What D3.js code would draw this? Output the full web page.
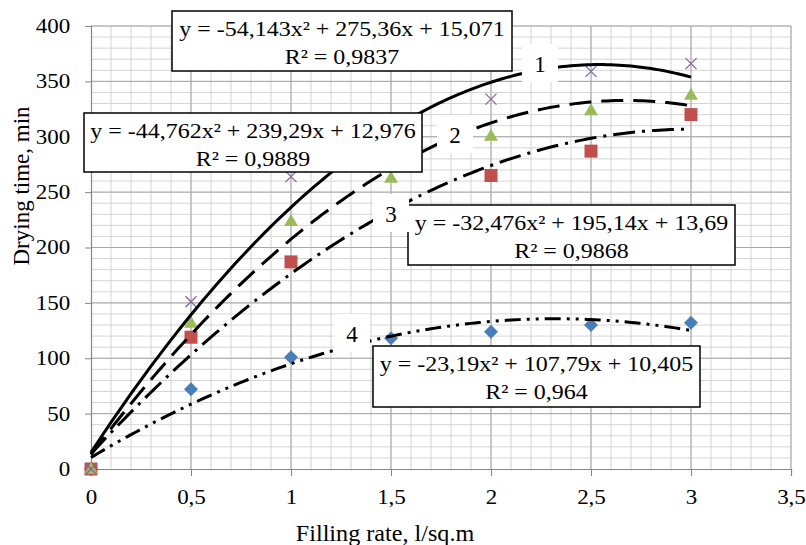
<!DOCTYPE html>
<html>
<head>
<meta charset="utf-8">
<script src="https://cdn.jsdelivr.net/npm/d3@7"></script>
<style>
  body { margin: 0; background: #fff; }
  svg text { font-family: "Liberation Serif", "Times New Roman", serif; fill: #000; }
</style>
</head>
<body>
<svg width="806" height="545"></svg>
<script>
// filling rate values, l/sq.m
const rates = [0, 0.5, 1, 1.5, 2, 2.5, 3];
// drying time, min (one array per series)
const time1 = [0, 151, 264, 306, 334, 359, 366];   // crosses
const time2 = [0, 132, 224, 263, 301, 324, 338];   // triangles
const time3 = [0, 119, 187, 233, 265, 287, 320];   // squares
const time4 = [0, 72, 101, 118, 124, 130, 132];    // diamonds

// polynomial trendline coefficients [a, b, c] -> a*x^2 + b*x + c
const trend1 = [-54.143, 275.36, 15.071];
const trend2 = [-44.762, 239.29, 12.976];
const trend3 = [-32.476, 195.14, 13.69];
const trend4 = [-23.19, 107.79, 10.405];

const eqLines = [
  "y = -54,143x² + 275,36x + 15,071",
  "y = -44,762x² + 239,29x + 12,976",
  "y = -32,476x² + 195,14x + 13,69",
  "y = -23,19x² + 107,79x + 10,405"
];
const r2Lines = ["R² = 0,9837", "R² = 0,9889", "R² = 0,9868", "R² = 0,964"];
const curveNames = ["1", "2", "3", "4"];

const xTicks = [0, 0.5, 1, 1.5, 2, 2.5, 3, 3.5];
const yTicks = [0, 50, 100, 150, 200, 250, 300, 350, 400];

const svg = d3.select("svg");
const L = 91, T = 26, W = 700, H = 443;

const x = d3.scaleLinear().domain([0, 3.5]).range([L, L + W]);
const y = d3.scaleLinear().domain([0, 400]).range([T + H, T]);

const fmt = d => String(d).replace(".", ",");

// gridlines: minor then major
const grid = svg.append("g");
grid.selectAll(".vminor")
  .data(d3.range(1, 36).map(i => i / 10))
  .enter().append("line")
  .attr("x1", d => x(d)).attr("x2", d => x(d))
  .attr("y1", T).attr("y2", T + H)
  .attr("stroke", "#d4d4d4").attr("stroke-width", 1);
grid.selectAll(".hminor")
  .data(d3.range(1, 41).map(i => i * 10))
  .enter().append("line")
  .attr("x1", L).attr("x2", L + W)
  .attr("y1", d => y(d)).attr("y2", d => y(d))
  .attr("stroke", "#d4d4d4").attr("stroke-width", 1);
grid.selectAll(".vmajor")
  .data(xTicks.slice(1))
  .enter().append("line")
  .attr("x1", d => x(d)).attr("x2", d => x(d))
  .attr("y1", T).attr("y2", T + H)
  .attr("stroke", "#a6a6a6").attr("stroke-width", 1);
grid.selectAll(".hmajor")
  .data(yTicks.slice(1))
  .enter().append("line")
  .attr("x1", L).attr("x2", L + W)
  .attr("y1", d => y(d)).attr("y2", d => y(d))
  .attr("stroke", "#a6a6a6").attr("stroke-width", 1);

// axes
const xAxis = svg.append("g")
  .attr("transform", `translate(0,${T + H})`)
  .call(d3.axisBottom(x).tickValues(xTicks).tickFormat(fmt).tickSize(7).tickPadding(14));
const yAxis = svg.append("g")
  .attr("transform", `translate(${L},0)`)
  .call(d3.axisLeft(y).tickValues(yTicks).tickFormat(fmt).tickSize(6).tickPadding(12));
[xAxis, yAxis].forEach(a => {
  a.select(".domain").attr("stroke", "#868686").attr("stroke-width", 1.2);
  a.selectAll(".tick line").attr("stroke", "#868686");
  a.selectAll("text").attr("font-size", 20).attr("fill", "#000")
    .attr("font-family", "'Liberation Serif', 'Times New Roman', serif")
    .attr("transform", "scale(1.15,1)");
});

// markers
const shapes = {
  cross: "M-5.5,-5.5L5.5,5.5M-5.5,5.5L5.5,-5.5",
  tri: "M0,-7L7,5L-7,5Z",
  square: "M-6.5,-6.5H6.5V6.5H-6.5Z",
  diamond: "M0,-7L7,0L0,7L-7,0Z"
};
const series = [
  { vals: time4, shape: "diamond", color: "#4a7ebb" },
  { vals: time3, shape: "square", color: "#c0504d" },
  { vals: time2, shape: "tri", color: "#9bbb59" },
  { vals: time1, shape: "cross", color: "#8064a2" }
];
series.forEach(s => {
  svg.append("g").selectAll("path")
    .data(rates.map((r, i) => [r, s.vals[i]]))
    .enter().append("path")
    .attr("transform", d => `translate(${x(d[0])},${y(d[1])})`)
    .attr("d", shapes[s.shape])
    .attr("fill", s.shape == "cross" ? "none" : s.color)
    .attr("stroke", s.shape == "cross" ? s.color : "none")
    .attr("stroke-width", 1.3);
});

// trendlines
const poly = (c, v) => c[0] * v * v + c[1] * v + c[2];
const tx = d3.range(0, 3.0001, 0.02);
const trends = [
  { c: trend1, dash: null },
  { c: trend2, dash: "22,10" },
  { c: trend3, dash: "22,7,3,7" },
  { c: trend4, dash: "16,6,3,6,3,6" }
];
trends.forEach(t => {
  svg.append("path")
    .datum(tx)
    .attr("d", d3.line().x(d => x(d)).y(d => y(poly(t.c, d))))
    .attr("fill", "none")
    .attr("stroke", "#000")
    .attr("stroke-width", 3)
    .attr("stroke-dasharray", t.dash);
});

// equation boxes
const boxes = [
  { x: 172, y: 11, w: 340, h: 60 },
  { x: 84, y: 113, w: 338, h: 59 },
  { x: 408, y: 205, w: 327, h: 60 },
  { x: 373, y: 346, w: 327, h: 61 }
];
boxes.forEach((b, i) => {
  const g = svg.append("g").attr("transform", `translate(${b.x},${b.y})`);
  g.append("rect").attr("width", b.w).attr("height", b.h)
    .attr("fill", "#fff").attr("stroke", "#000").attr("stroke-width", 1.5);
  g.append("text")
    .attr("transform", `translate(${b.w / 2},25) scale(1.09,1)`)
    .attr("text-anchor", "middle").attr("font-size", 22)
    .text(eqLines[i]);
  g.append("text")
    .attr("transform", `translate(${b.w / 2},52.5) scale(1.09,1)`)
    .attr("text-anchor", "middle").attr("font-size", 22)
    .text(r2Lines[i]);
});

// curve number labels
const tags = [
  { x: 540, y: 64 },
  { x: 455, y: 135 },
  { x: 391, y: 214 },
  { x: 352, y: 334 }
];
tags.forEach((p, i) => {
  svg.append("rect").attr("x", p.x - 18).attr("y", p.y - 20)
    .attr("width", 36).attr("height", 38).attr("fill", "#fff");
  svg.append("text").attr("x", p.x).attr("y", p.y + 8)
    .attr("text-anchor", "middle").attr("font-size", 23)
    .text(curveNames[i]);
});

// axis titles
svg.append("text")
  .attr("transform", "translate(29,186) rotate(-90)")
  .attr("text-anchor", "middle").attr("font-size", 23)
  .text("Drying time, min");
svg.append("text")
  .attr("transform", "translate(385,541) scale(1.05,1)")
  .attr("text-anchor", "middle").attr("font-size", 23)
  .text("Filling rate, l/sq.m");
</script>
</body>
</html>
